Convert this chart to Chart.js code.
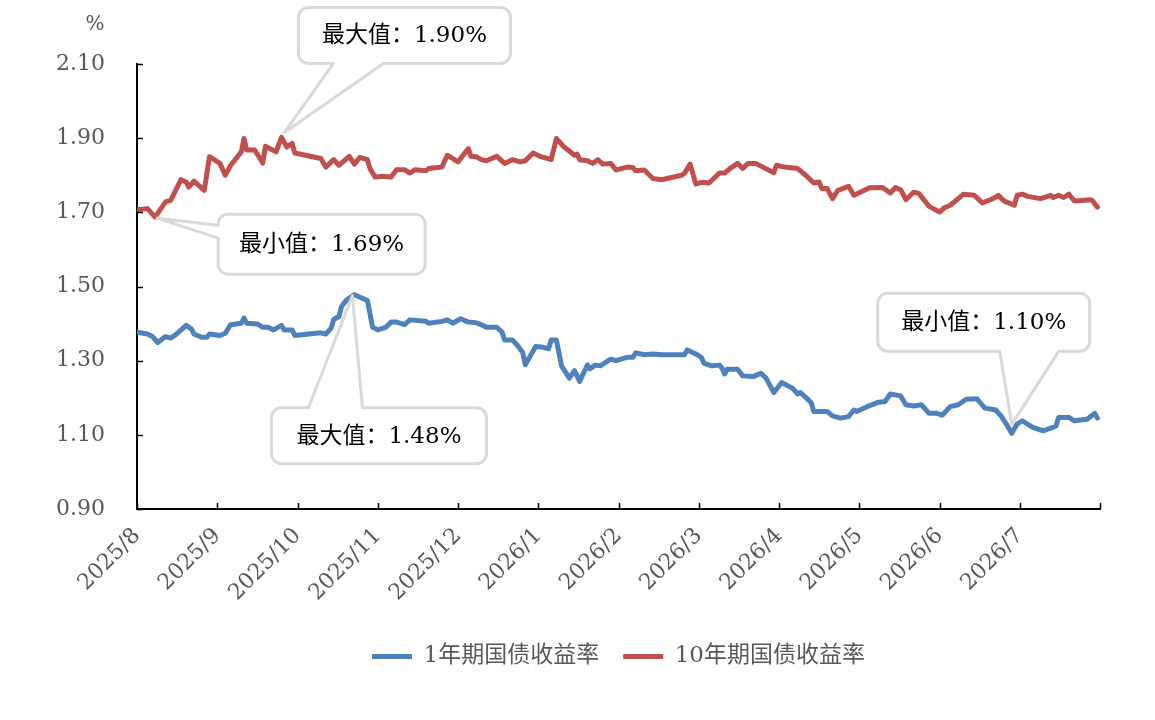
<!DOCTYPE html>
<html>
<head>
<meta charset="utf-8">
<script src="https://cdn.jsdelivr.net/npm/chart.js@4.4.1/dist/chart.umd.min.js"></script>
<style>
  html, body { margin: 0; padding: 0; background: #fff; }
  #wrap { width: 1155px; height: 720px; position: relative; }
</style>
</head>
<body>
<div id="wrap"><canvas id="yield-chart"></canvas></div>
<script>
// Month tick labels (axis runs 2025/8 .. end of 2026/7)
const monthLabels = ['2025/8', '2025/9', '2025/10', '2025/11', '2025/12', '2026/1',
    '2026/2', '2026/3', '2026/4', '2026/5', '2026/6', '2026/7'];

// 1-year government bond yield (%)
const dates1y = [
    '2025-08-01', '2025-08-05', '2025-08-07', '2025-08-09', '2025-08-12', '2025-08-14', '2025-08-16',
    '2025-08-20', '2025-08-22', '2025-08-23', '2025-08-26', '2025-08-28', '2025-08-29',
    '2025-09-02', '2025-09-04', '2025-09-06', '2025-09-10', '2025-09-11', '2025-09-12', '2025-09-16',
    '2025-09-18', '2025-09-20', '2025-09-22', '2025-09-25', '2025-09-26', '2025-09-29', '2025-09-30',
    '2025-10-10', '2025-10-12', '2025-10-14', '2025-10-15', '2025-10-17', '2025-10-18', '2025-10-20',
    '2025-10-23', '2025-10-28', '2025-10-30',
    '2025-11-01', '2025-11-04', '2025-11-06', '2025-11-08', '2025-11-11', '2025-11-13', '2025-11-19',
    '2025-11-20', '2025-11-25', '2025-11-27', '2025-11-29',
    '2025-12-02', '2025-12-03', '2025-12-05', '2025-12-08', '2025-12-10', '2025-12-12', '2025-12-16',
    '2025-12-18', '2025-12-19', '2025-12-22', '2025-12-24', '2025-12-26', '2025-12-27', '2025-12-31',
    '2026-01-03', '2026-01-05', '2026-01-06', '2026-01-08', '2026-01-10', '2026-01-13', '2026-01-15',
    '2026-01-17', '2026-01-20', '2026-01-21', '2026-01-23', '2026-01-25', '2026-01-29', '2026-01-31',
    '2026-02-04', '2026-02-06', '2026-02-07', '2026-02-10', '2026-02-13', '2026-02-16', '2026-02-24',
    '2026-02-25', '2026-02-28',
    '2026-03-02', '2026-03-03', '2026-03-06', '2026-03-09', '2026-03-10', '2026-03-11', '2026-03-12',
    '2026-03-16', '2026-03-18', '2026-03-22', '2026-03-25', '2026-03-27', '2026-03-30',
    '2026-04-02', '2026-04-06', '2026-04-08', '2026-04-09', '2026-04-11', '2026-04-13', '2026-04-14',
    '2026-04-19', '2026-04-21', '2026-04-24', '2026-04-27', '2026-04-29', '2026-04-30',
    '2026-05-04', '2026-05-08', '2026-05-11', '2026-05-13', '2026-05-17', '2026-05-19', '2026-05-22',
    '2026-05-25', '2026-05-28', '2026-05-31',
    '2026-06-02', '2026-06-05', '2026-06-08', '2026-06-11', '2026-06-15', '2026-06-18', '2026-06-22',
    '2026-06-24', '2026-06-26', '2026-06-28', '2026-06-30',
    '2026-07-02', '2026-07-06', '2026-07-10', '2026-07-13', '2026-07-15', '2026-07-16', '2026-07-20',
    '2026-07-22', '2026-07-27', '2026-07-30', '2026-07-31'
];
const yield1y = [
    1.377, 1.372, 1.365, 1.349, 1.365, 1.361, 1.370,
    1.395, 1.386, 1.372, 1.363, 1.363, 1.372,
    1.368, 1.374, 1.397, 1.401, 1.415, 1.401, 1.399,
    1.390, 1.390, 1.383, 1.395, 1.383, 1.383, 1.368,
    1.375, 1.372, 1.388, 1.411, 1.419, 1.446, 1.464,
    1.478, 1.462, 1.390,
    1.383, 1.390, 1.404, 1.404, 1.397, 1.410, 1.406,
    1.401, 1.406, 1.410, 1.401,
    1.413, 1.410, 1.404, 1.402, 1.397, 1.390, 1.390,
    1.377, 1.356, 1.356, 1.341, 1.322, 1.289, 1.338,
    1.336, 1.332, 1.356, 1.356, 1.286, 1.253, 1.273,
    1.244, 1.289, 1.278, 1.288, 1.286, 1.304, 1.300,
    1.309, 1.309, 1.321, 1.316, 1.318, 1.316, 1.316,
    1.329, 1.318,
    1.309, 1.293, 1.286, 1.288, 1.280, 1.264, 1.277,
    1.277, 1.259, 1.257, 1.266, 1.253, 1.214,
    1.241, 1.226, 1.210, 1.214, 1.201, 1.187, 1.163,
    1.163, 1.151, 1.145, 1.149, 1.167, 1.163,
    1.176, 1.187, 1.190, 1.210, 1.205, 1.181, 1.178,
    1.181, 1.158, 1.158,
    1.153, 1.176, 1.181, 1.196, 1.197, 1.172, 1.167,
    1.151, 1.129, 1.104, 1.129,
    1.138, 1.120, 1.111, 1.118, 1.124, 1.147, 1.147,
    1.138, 1.142, 1.158, 1.145
];

// 10-year government bond yield (%)
const dates10y = [
    '2025-08-01', '2025-08-05', '2025-08-08', '2025-08-12', '2025-08-14', '2025-08-18', '2025-08-20',
    '2025-08-21', '2025-08-23', '2025-08-27', '2025-08-29',
    '2025-09-02', '2025-09-04', '2025-09-06', '2025-09-10', '2025-09-11', '2025-09-12', '2025-09-15',
    '2025-09-18', '2025-09-19', '2025-09-23', '2025-09-25', '2025-09-27', '2025-09-29', '2025-09-30',
    '2025-10-10', '2025-10-12', '2025-10-14', '2025-10-15', '2025-10-17', '2025-10-21', '2025-10-23',
    '2025-10-25', '2025-10-28', '2025-10-29', '2025-10-31',
    '2025-11-02', '2025-11-06', '2025-11-08', '2025-11-11', '2025-11-13', '2025-11-15', '2025-11-19',
    '2025-11-20', '2025-11-25', '2025-11-27',
    '2025-12-01', '2025-12-05', '2025-12-06', '2025-12-08', '2025-12-10', '2025-12-12', '2025-12-16',
    '2025-12-19', '2025-12-22', '2025-12-25', '2025-12-27', '2025-12-30',
    '2026-01-02', '2026-01-06', '2026-01-08', '2026-01-11', '2026-01-15', '2026-01-16', '2026-01-17',
    '2026-01-20', '2026-01-22', '2026-01-24', '2026-01-26', '2026-01-29', '2026-01-31',
    '2026-02-04', '2026-02-06', '2026-02-07', '2026-02-10', '2026-02-13', '2026-02-16', '2026-02-23',
    '2026-02-24', '2026-02-26', '2026-02-28',
    '2026-03-02', '2026-03-05', '2026-03-09', '2026-03-11', '2026-03-13', '2026-03-16', '2026-03-18',
    '2026-03-20', '2026-03-23', '2026-03-30', '2026-03-31',
    '2026-04-03', '2026-04-08', '2026-04-11', '2026-04-14', '2026-04-16', '2026-04-17', '2026-04-19',
    '2026-04-21', '2026-04-23', '2026-04-27', '2026-04-29',
    '2026-05-05', '2026-05-10', '2026-05-13', '2026-05-15', '2026-05-17', '2026-05-19', '2026-05-22',
    '2026-05-24', '2026-05-28',
    '2026-06-01', '2026-06-03', '2026-06-05', '2026-06-07', '2026-06-10', '2026-06-14', '2026-06-17',
    '2026-06-21', '2026-06-23', '2026-06-25', '2026-06-29', '2026-06-30',
    '2026-07-02', '2026-07-04', '2026-07-09', '2026-07-13', '2026-07-14', '2026-07-16', '2026-07-18',
    '2026-07-20', '2026-07-22', '2026-07-24', '2026-07-28', '2026-07-29', '2026-07-31'
];
const yield10y = [
    1.707, 1.710, 1.687, 1.728, 1.732, 1.788, 1.782,
    1.768, 1.784, 1.759, 1.850,
    1.832, 1.800, 1.827, 1.863, 1.899, 1.868, 1.868,
    1.833, 1.878, 1.863, 1.902, 1.876, 1.886, 1.860,
    1.845, 1.822, 1.836, 1.842, 1.827, 1.851, 1.830,
    1.848, 1.842, 1.818, 1.795,
    1.797, 1.795, 1.815, 1.815, 1.806, 1.815, 1.812,
    1.818, 1.822, 1.854,
    1.836, 1.872, 1.851, 1.850, 1.842, 1.839, 1.851,
    1.832, 1.842, 1.836, 1.839, 1.860,
    1.850, 1.842, 1.899, 1.876, 1.854, 1.857, 1.842,
    1.839, 1.832, 1.842, 1.830, 1.832, 1.814,
    1.822, 1.821, 1.812, 1.814, 1.791, 1.788, 1.800,
    1.805, 1.830, 1.776,
    1.781, 1.779, 1.806, 1.806, 1.818, 1.832, 1.818,
    1.832, 1.832, 1.807, 1.827,
    1.822, 1.818, 1.800, 1.779, 1.782, 1.764, 1.764,
    1.737, 1.759, 1.770, 1.746,
    1.766, 1.767, 1.752, 1.767, 1.761, 1.734, 1.754,
    1.751, 1.716,
    1.701, 1.713, 1.719, 1.731, 1.749, 1.746, 1.725,
    1.737, 1.746, 1.731, 1.719, 1.746,
    1.749, 1.743, 1.737, 1.746, 1.740, 1.746, 1.740,
    1.749, 1.731, 1.731, 1.734, 1.732, 1.714
];

const fontFamily = '"DejaVu Serif", "Noto Sans CJK SC", serif';

// Position of a date on the month axis (each month gets equal width)
function monthPos(dateStr) {
    const [y, m, d] = dateStr.split('-').map(Number);
    const idx = (y - 2025) * 12 + (m - 8);
    const days = new Date(y, m, 0).getDate();
    return idx + (d - 1) / days;
}

function toPoints(dates, values) {
    return dates.map((d, i) => ({ x: monthPos(d), y: values[i] }));
}

// Callout boxes: box = [dx, dy, w, h] from the marked point, wedge = base on given edge
const callouts = [
    { dataset: 1, pick: 'max', text: '最大值', box: [17, -130, 212, 56], edge: 'bottom', wedge: [35, 85], tip: [3, -5] },
    { dataset: 1, pick: 'min', text: '最小值', box: [63, -3, 207, 60], edge: 'left', wedge: [11, 24], tip: [2, 1] },
    { dataset: 0, pick: 'max', text: '最大值', box: [-83, 113, 215, 56], edge: 'top', wedge: [37, 91], tip: [-2, 1] },
    { dataset: 0, pick: 'min', text: '最小值', box: [-134, -140, 212, 58], edge: 'bottom', wedge: [122, 181], tip: [0, -9] }
];

function calloutPath(ctx, x, y, w, h, r, edge, a, b, tx, ty) {
    ctx.beginPath();
    ctx.moveTo(x + r, y);
    if (edge === 'top') { ctx.lineTo(x + a, y); ctx.lineTo(tx, ty); ctx.lineTo(x + b, y); }
    ctx.lineTo(x + w - r, y);
    ctx.arcTo(x + w, y, x + w, y + r, r);
    ctx.lineTo(x + w, y + h - r);
    ctx.arcTo(x + w, y + h, x + w - r, y + h, r);
    if (edge === 'bottom') { ctx.lineTo(x + b, y + h); ctx.lineTo(tx, ty); ctx.lineTo(x + a, y + h); }
    ctx.lineTo(x + r, y + h);
    ctx.arcTo(x, y + h, x, y + h - r, r);
    if (edge === 'left') { ctx.lineTo(x, y + b); ctx.lineTo(tx, ty); ctx.lineTo(x, y + a); }
    ctx.lineTo(x, y + r);
    ctx.arcTo(x, y, x + r, y, r);
    ctx.closePath();
}

const decorPlugin = {
    id: 'decor',
    afterDraw(chart) {
        const ctx = chart.ctx;
        const xs = chart.scales.x;
        const ys = chart.scales.y;
        const area = chart.chartArea;
        ctx.save();

        // inward tick marks
        ctx.strokeStyle = '#000';
        ctx.lineWidth = 1.5;
        ctx.beginPath();
        xs.ticks.forEach(t => {
            const px = Math.round(xs.getPixelForValue(t.value)) + 0.5;
            ctx.moveTo(px, area.bottom);
            ctx.lineTo(px, area.bottom - 6);
        });
        ys.ticks.forEach(t => {
            const py = Math.round(ys.getPixelForValue(t.value)) + 0.5;
            ctx.moveTo(area.left, py);
            ctx.lineTo(area.left + 6, py);
        });
        ctx.stroke();

        // unit label
        ctx.fillStyle = '#595959';
        ctx.font = '20px ' + fontFamily;
        ctx.textAlign = 'center';
        ctx.textBaseline = 'middle';
        ctx.fillText('%', 95, 25);

        // callouts for max / min values
        callouts.forEach(c => {
            const values = chart.data.datasets[c.dataset].data;
            let idx = 0;
            values.forEach((p, i) => {
                if (c.pick === 'max' ? p.y > values[idx].y : p.y < values[idx].y) idx = i;
            });
            const px = xs.getPixelForValue(values[idx].x);
            const py = ys.getPixelForValue(values[idx].y);
            const [dx, dy, w, h] = c.box;
            const bx = px + dx, by = py + dy;
            calloutPath(ctx, bx, by, w, h, 10, c.edge, c.wedge[0], c.wedge[1], px + c.tip[0], py + c.tip[1]);
            ctx.fillStyle = '#fff';
            ctx.fill();
            ctx.strokeStyle = '#d9d9d9';
            ctx.lineWidth = 3;
            ctx.lineJoin = 'round';
            ctx.stroke();
            ctx.fillStyle = '#000';
            ctx.font = '23px ' + fontFamily;
            ctx.fillText(c.text + '：' + values[idx].y.toFixed(2) + '%', bx + w / 2, by + h / 2 + 1);
        });
        ctx.restore();
    }
};

function renderYieldChart() {
    const canvas = document.getElementById('yield-chart');
    const ctx = canvas.getContext('2d');

    Chart.defaults.font.family = fontFamily;
    Chart.defaults.color = '#595959';

    new Chart(ctx, {
        type: 'line',
        data: {
            datasets: [{
                label: '1年期国债收益率',
                data: toPoints(dates1y, yield1y),
                borderColor: '#4f81bd',
                backgroundColor: '#4f81bd',
                borderWidth: 5,
                pointRadius: 0,
                borderJoinStyle: 'round',
                borderCapStyle: 'round'
            }, {
                label: '10年期国债收益率',
                data: toPoints(dates10y, yield10y),
                borderColor: '#c0504d',
                backgroundColor: '#c0504d',
                borderWidth: 5,
                pointRadius: 0,
                borderJoinStyle: 'round',
                borderCapStyle: 'round'
            }]
        },
        options: {
            responsive: true,
            maintainAspectRatio: false,
            animation: false,
            layout: { padding: { top: 64, right: 55, bottom: 42, left: 0 } },
            scales: {
                x: {
                    type: 'linear',
                    min: 0,
                    max: 12,
                    grid: { display: false, drawTicks: false },
                    border: { display: true, color: '#000', width: 2 },
                    afterBuildTicks: scale => {
                        scale.ticks = monthLabels.map((l, i) => ({ value: i })).concat([{ value: 12 }]);
                    },
                    afterFit: scale => { scale.height = 112; },
                    ticks: {
                        autoSkip: false,
                        minRotation: 45,
                        maxRotation: 45,
                        padding: 14,
                        color: '#595959',
                        font: { size: 22 },
                        callback: value => monthLabels[value] || ''
                    }
                },
                y: {
                    min: 0.9,
                    max: 2.1,
                    grid: { display: false, drawTicks: false },
                    border: { display: true, color: '#000', width: 2 },
                    afterFit: scale => { scale.width = 137; },
                    ticks: {
                        stepSize: 0.2,
                        padding: 32,
                        color: '#595959',
                        font: { size: 22 },
                        callback: value => value.toFixed(2)
                    }
                }
            },
            plugins: {
                legend: {
                    position: 'bottom',
                    fullSize: false,
                    labels: {
                        boxWidth: 40,
                        boxHeight: 5,
                        padding: 24,
                        color: '#595959',
                        font: { size: 23 },
                        generateLabels: chart => {
                            const items = Chart.defaults.plugins.legend.labels.generateLabels(chart);
                            items.forEach(it => { it.lineWidth = 0; it.fillStyle = it.strokeStyle; });
                            return items;
                        }
                    }
                },
                tooltip: { enabled: false }
            }
        },
        plugins: [decorPlugin]
    });
}

renderYieldChart();
</script>
</body>
</html>
